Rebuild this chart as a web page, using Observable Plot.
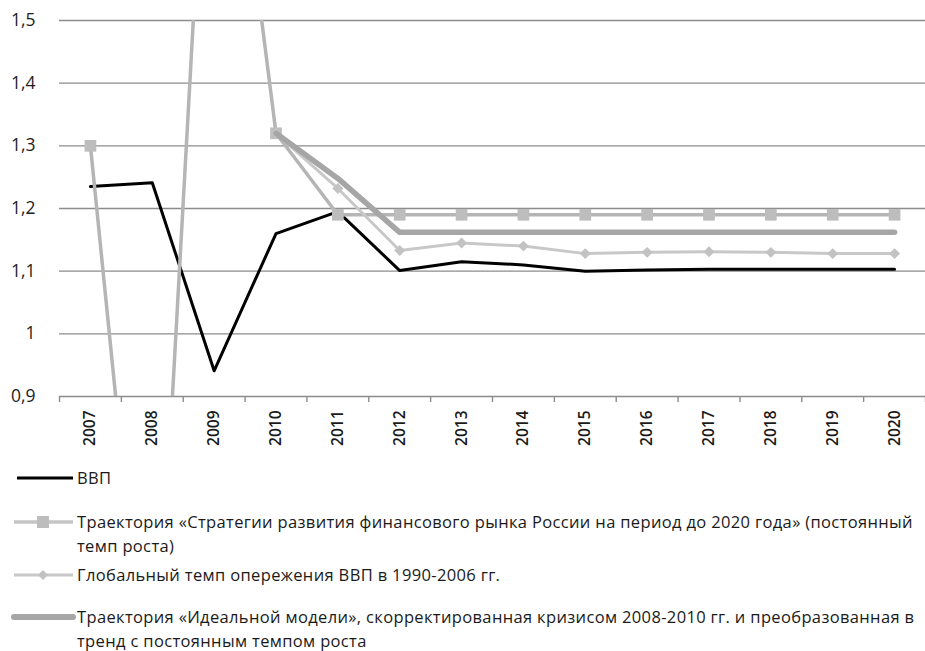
<!DOCTYPE html>
<html>
<head>
<meta charset="utf-8">
<script src="https://cdn.jsdelivr.net/npm/d3@7"></script>
<script src="https://cdn.jsdelivr.net/npm/@observablehq/plot@0.6"></script>
<style>
  body { margin: 0; background: #fff; font-family: "Open Sans", sans-serif; }
  #chart { width: 925px; height: 462px; }
  #legend { position: relative; width: 925px; height: 189px; font-size: 16.5px; letter-spacing: 0.35px; color: #1a1a1a; }
  .item { position: absolute; left: 0; }
  .item svg { position: absolute; left: 0; }
  .item .txt { position: absolute; left: 77px; line-height: 24px; white-space: nowrap; }
</style>
</head>
<body>
<div id="chart"></div>
<div id="legend"></div>
<script>
const years = [2007, 2008, 2009, 2010, 2011, 2012, 2013, 2014, 2015, 2016, 2017, 2018, 2019, 2020];
const gdp = [1.235, 1.241, 0.941, 1.16, 1.195, 1.101, 1.115, 1.11, 1.1, 1.102, 1.103, 1.103, 1.103, 1.103];
const strategy = [1.30, 0.32, 2.10, 1.32, 1.19, 1.19, 1.19, 1.19, 1.19, 1.19, 1.19, 1.19, 1.19, 1.19];
const globalRate = [null, null, null, 1.32, 1.232, 1.133, 1.145, 1.14, 1.128, 1.13, 1.131, 1.13, 1.128, 1.128];
const ideal = [null, null, null, 1.32, 1.248, 1.162, 1.162, 1.162, 1.162, 1.162, 1.162, 1.162, 1.162, 1.162];
const yTicks = [0.9, 1.0, 1.1, 1.2, 1.3, 1.4, 1.5];
const yTickLabels = ["0,9", "1", "1,1", "1,2", "1,3", "1,4", "1,5"];
const seriesNames = [
  "ВВП",
  "Траектория «Стратегии развития финансового рынка России на период до 2020 года» (постоянный темп роста)",
  "Глобальный темп опережения ВВП в 1990-2006 гг.",
  "Траектория «Идеальной модели», скорректированная кризисом 2008-2010 гг. и преобразованная в тренд с постоянным темпом роста"
];

const rows = (vals) => years.map((y, i) => ({year: y, value: vals[i]})).filter(d => d.value != null);
const gdpData = rows(gdp), stratData = rows(strategy), globData = rows(globalRate), idealData = rows(ideal);
const boundaries = years.concat([years[years.length - 1] + 1]).map(y => y - 0.5);

const chart = Plot.plot({
  width: 925,
  height: 462,
  marginLeft: 59,
  marginRight: 0,
  marginTop: 20,
  marginBottom: 66,
  style: {fontFamily: "Open Sans, sans-serif", background: "#fff"},
  x: {type: "linear", domain: [boundaries[0], boundaries[boundaries.length - 1]]},
  y: {domain: [0.9, 1.5]},
  marks: [
    Plot.gridY(yTicks.slice(1), {stroke: "#8c8c8c", strokeOpacity: 1, strokeWidth: 1.4}),
    Plot.ruleY([0.9], {stroke: "#8c8c8c", strokeWidth: 1.4}),
    Plot.axisY(yTicks, {tickSize: 0, tickPadding: 24, tickFormat: (d) => yTickLabels[yTicks.indexOf(d)], fontSize: 17.5, fill: "#1e1e1e", label: null}),
    Plot.axisX(boundaries, {tickSize: 6, stroke: "#8c8c8c", strokeWidth: 1.4, tickFormat: () => "", label: null}),
    Plot.axisX(years, {tickSize: 0, tickPadding: 14, tickRotate: -90, tickFormat: d => String(d), fontSize: 15.5, fontWeight: 600, fill: "#1a1a1a", label: null}),
    Plot.line(gdpData, {x: "year", y: "value", stroke: "#000", strokeWidth: 3, clip: true}),
    Plot.line(stratData, {x: "year", y: "value", stroke: "#b5b5b5", strokeWidth: 3.5, clip: true}),
    Plot.dot(stratData, {x: "year", y: "value", symbol: "square", r: 6.6, fill: "#bdbdbd", stroke: "none", clip: true}),
    Plot.line(globData, {x: "year", y: "value", stroke: "#c8c8c8", strokeWidth: 3, clip: true}),
    Plot.dot(globData, {x: "year", y: "value", symbol: "diamond2", r: 4.9, fill: "#c2c2c2", stroke: "none", clip: true}),
    Plot.line(idealData, {x: "year", y: "value", stroke: "#a6a6a6", strokeWidth: 5.5, clip: true})
  ]
});
document.getElementById("chart").appendChild(chart);

// Legend
const legend = d3.select("#legend");
const items = [
  {top: 4, lines: [seriesNames[0]], kind: "gdp"},
  {top: 48, lines: ["Траектория «Стратегии развития финансового рынка России на период до 2020 года» (постоянный", "темп роста)"], kind: "strategy"},
  {top: 101, lines: [seriesNames[2]], kind: "global"},
  {top: 143, lines: ["Траектория «Идеальной модели», скорректированная кризисом 2008-2010 гг. и преобразованная в", "тренд с постоянным темпом роста"], kind: "ideal"}
];
for (const it of items) {
  const g = legend.append("div").attr("class", "item").style("top", it.top + "px");
  const svg = g.append("svg").attr("width", 76).attr("height", 24).style("top", "0px");
  if (it.kind === "gdp") {
    svg.append("line").attr("x1", 17).attr("x2", 73).attr("y1", 12).attr("y2", 12).attr("stroke", "#000").attr("stroke-width", 3);
  } else if (it.kind === "strategy") {
    svg.append("line").attr("x1", 14).attr("x2", 73).attr("y1", 12).attr("y2", 12).attr("stroke", "#c4c4c4").attr("stroke-width", 3.5);
    svg.append("rect").attr("x", 37).attr("y", 6).attr("width", 12).attr("height", 12).attr("fill", "#bdbdbd");
  } else if (it.kind === "global") {
    svg.append("line").attr("x1", 14).attr("x2", 73).attr("y1", 12).attr("y2", 12).attr("stroke", "#c8c8c8").attr("stroke-width", 3);
    svg.append("path").attr("d", "M43,7 L48,12 L43,17 L38,12 Z").attr("fill", "#c2c2c2");
  } else {
    svg.append("line").attr("x1", 14).attr("x2", 73).attr("y1", 12).attr("y2", 12).attr("stroke", "#a6a6a6").attr("stroke-width", 6).attr("stroke-linecap", "round");
  }
  g.append("div").attr("class", "txt").html(it.lines.join("<br>"));
}
</script>
</body>
</html>
